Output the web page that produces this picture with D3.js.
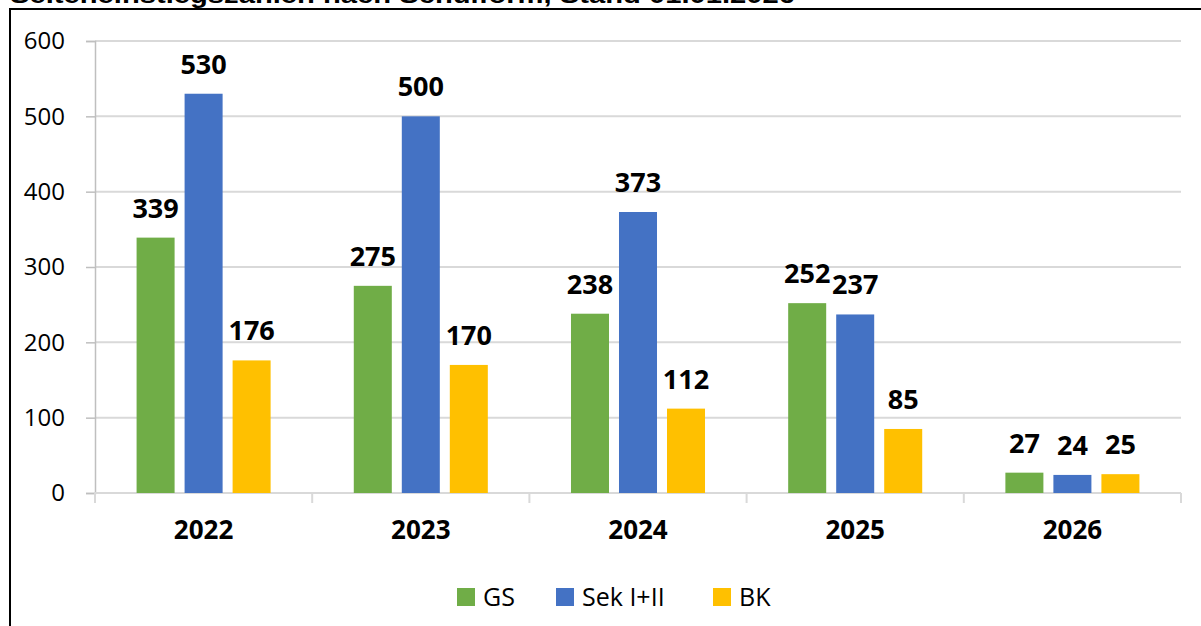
<!DOCTYPE html>
<html><head><meta charset="utf-8">
<script src="https://cdn.jsdelivr.net/npm/d3@7"></script>
<style>body{margin:0;background:#fff}svg{display:block}</style>
</head><body>
<svg id="c" width="1201" height="626"></svg>
<script>
const title = "Seiteneinstiegszahlen nach Schulform, Stand 01.01.2026";
const categories = ["2022","2023","2024","2025","2026"];
const seriesNames = ["GS","Sek I+II","BK"];
const seriesColors = ["#70AD47","#4472C4","#FFC000"];
const gsValues = [339,275,238,252,27];
const sekValues = [530,500,373,237,24];
const bkValues = [176,170,112,85,25];
const yTicks = [0,100,200,300,400,500,600];

const series = [gsValues, sekValues, bkValues];
const svg = d3.select("#c");
const font = "'Open Sans', 'Noto Sans', sans-serif";

// frame
svg.append("rect").attr("x",10).attr("y",9).attr("width",1200).attr("height",640)
  .attr("fill","none").attr("stroke","#000").attr("stroke-width",2);
svg.append("text").attr("x",10).attr("y",3).text(title)
  .attr("font-family","Arial, 'Liberation Sans', sans-serif").attr("font-weight","bold")
  .attr("font-size",24).attr("textLength",785).attr("lengthAdjust","spacingAndGlyphs");

const x0 = 95, x1 = 1181, yTop = 41, yBot = 493;
const x = d3.scaleBand().domain(categories).range([x0,x1]).padding(0);
const y = d3.scaleLinear().domain([0,600]).range([yBot,yTop]);

// gridlines
svg.append("g").selectAll("line").data(yTicks.filter(d=>d>0)).join("line")
  .attr("x1",x0).attr("x2",x1).attr("y1",d=>y(d)).attr("y2",d=>y(d))
  .attr("stroke","#d9d9d9").attr("stroke-width",2);

// y axis
const yAxis = svg.append("g").attr("transform",`translate(${x0},0)`)
  .call(d3.axisLeft(y).tickValues(yTicks).tickSize(9).tickPadding(21));
yAxis.select(".domain").attr("stroke","#bfbfbf").attr("stroke-width",1.5);
yAxis.selectAll(".tick line").attr("stroke","#bfbfbf").attr("stroke-width",1.5);
yAxis.selectAll(".tick text").attr("font-family",font).attr("font-size",24).attr("fill","#000");

// x axis
const xAxis = svg.append("g").attr("transform",`translate(0,${yBot})`)
  .call(d3.axisBottom(x).tickSize(0).tickPadding(0));
xAxis.select(".domain").remove();
xAxis.selectAll(".tick text").attr("font-family",font).attr("font-weight","bold")
  .attr("font-size",26).attr("fill","#000").attr("dy",0).attr("y",46);
svg.append("line").attr("x1",x0).attr("x2",x1).attr("y1",yBot).attr("y2",yBot)
  .attr("stroke","#d9d9d9").attr("stroke-width",2);
const bounds = categories.map(c=>x(c)).concat([x1]);
svg.append("g").selectAll("line").data(bounds).join("line")
  .attr("x1",d=>d).attr("x2",d=>d).attr("y1",yBot).attr("y2",yBot+10)
  .attr("stroke","#d9d9d9").attr("stroke-width",2);

// bars
const bw = x.bandwidth()*0.175, gap = 10;
const groupW = 3*bw + 2*gap;
series.forEach((vals,si)=>{
  const g = svg.append("g");
  const off = d => x(d) + (x.bandwidth()-groupW)/2 + si*(bw+gap);
  g.selectAll("rect").data(categories).join("rect")
    .attr("x",off).attr("width",bw)
    .attr("y",(d,i)=>y(vals[i])).attr("height",(d,i)=>yBot-y(vals[i]))
    .attr("fill",seriesColors[si]);
  g.selectAll("text").data(categories).join("text")
    .attr("x",d=>off(d)+bw/2).attr("y",(d,i)=>y(vals[i])-20)
    .attr("text-anchor","middle").attr("font-family",font).attr("font-weight","bold")
    .attr("font-size",27).attr("fill","#000").text((d,i)=>vals[i]);
});

// legend
const legX = [457,556,713];
const leg = svg.append("g");
seriesNames.forEach((n,i)=>{
  leg.append("rect").attr("x",legX[i]).attr("y",588).attr("width",18).attr("height",18).attr("fill",seriesColors[i]);
  leg.append("text").attr("x",legX[i]+26).attr("y",606).attr("font-family",font)
    .attr("font-size",25).attr("fill","#000").text(n);
});
</script>
</body></html>
